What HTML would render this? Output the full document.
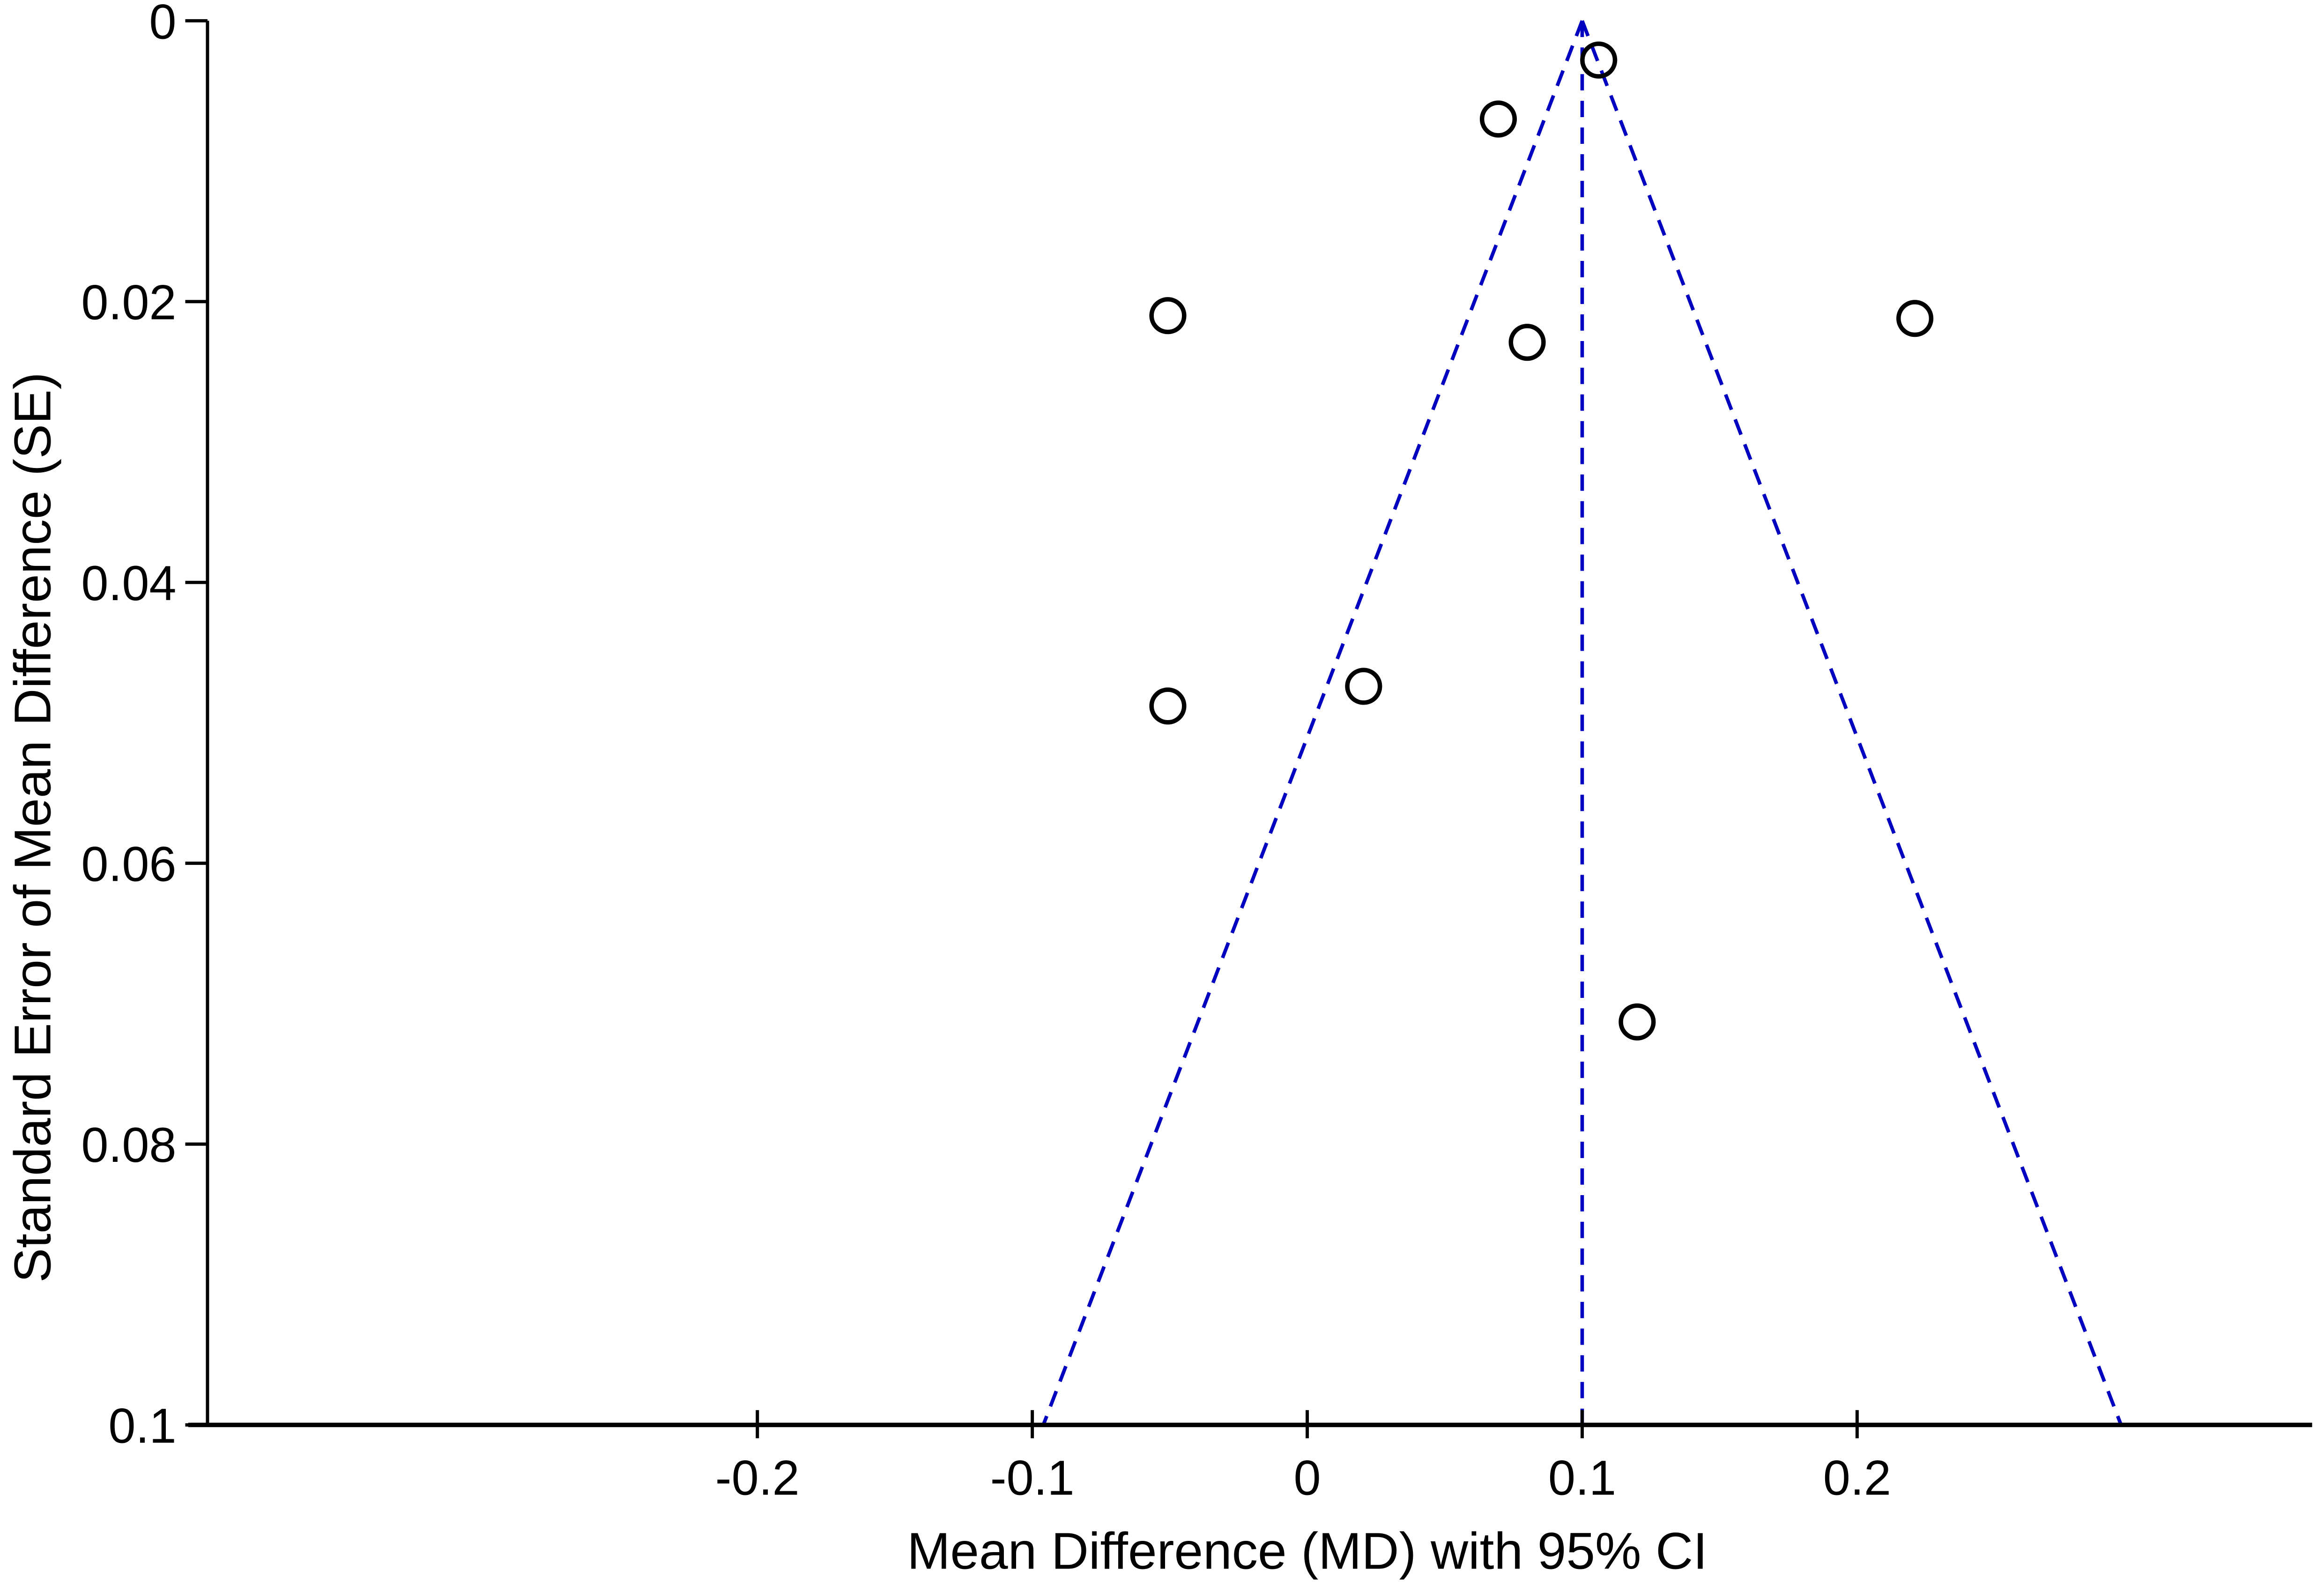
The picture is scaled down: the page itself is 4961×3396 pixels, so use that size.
<!DOCTYPE html>
<html><head><meta charset="utf-8"><style>
html,body{margin:0;padding:0;background:#fff;}
svg{display:block;}
text{font-family:"Liberation Sans",Arial,sans-serif;fill:#000;}
</style></head><body>
<svg id="chart" width="4961" height="3396" viewBox="0 0 1568 1073" preserveAspectRatio="none" xmlns="http://www.w3.org/2000/svg"></svg>
<script>
const xTicks = [-0.2, -0.1, 0, 0.1, 0.2];
const xTickLabels = ["-0.2", "-0.1", "0", "0.1", "0.2"];
const yTicks = [0, 0.02, 0.04, 0.06, 0.08, 0.1];
const yTickLabels = ["0", "0.02", "0.04", "0.06", "0.08", "0.1"];
const studyMD = [0.106, 0.0695, -0.0507, 0.080, 0.221, 0.0205, -0.0507, 0.120];
const studySE = [0.0028, 0.0070, 0.0210, 0.0229, 0.0212, 0.0474, 0.0488, 0.0713];
const pooledMD = [0.1];
const seMax = [0.1];

const X0 = 882, XS = 1855;
const Y0 = 14, YS = 9470;
function xs(v){ return X0 + v * XS; }
function ys(v){ return Y0 + v * YS; }
const svg = document.getElementById('chart');
const NS = 'http://www.w3.org/2000/svg';
function mk(tag, attrs, parent){
  const e = document.createElementNS(NS, tag);
  for (const k in attrs) e.setAttribute(k, attrs[k]);
  (parent || svg).appendChild(e);
  return e;
}

const fg = mk('g', {});


const p = pooledMD[0], sm = seMax[0];
const dashStyle = {stroke:'#0000c0','stroke-width':2.4,'stroke-dasharray':'11,7',fill:'none'};
const l1 = mk('line', Object.assign({x1:xs(p),y1:ys(0),x2:xs(p-1.96*sm),y2:ys(sm)}, dashStyle), fg);


const l2 = mk('line', Object.assign({x1:xs(p),y1:ys(0),x2:xs(p+1.96*sm),y2:ys(sm)}, dashStyle), fg);


const l3 = mk('line', Object.assign({x1:xs(p),y1:ys(0),x2:xs(p),y2:ys(sm)}, dashStyle), fg);



const ya = mk('line', {x1:140,y1:ys(0),x2:140,y2:ys(0.1)+1,stroke:'#000','stroke-width':2.2});


const xa = mk('line', {x1:127,y1:ys(0.1),x2:1560,y2:ys(0.1),stroke:'#000','stroke-width':3});



yTicks.forEach((t, i) => {
  const tk = mk('line', {x1:125,y1:ys(t),x2:140,y2:ys(t),stroke:'#000','stroke-width':2.2});
  
  
  const tx = mk('text', {x:119,y:ys(t)+12,'text-anchor':'end','font-size':33});
  tx.textContent = yTickLabels[i];
  
  
});
xTicks.forEach((t, i) => {
  const tk = mk('line', {x1:xs(t),y1:ys(0.1)-10,x2:xs(t),y2:ys(0.1)+9,stroke:'#000','stroke-width':2.2});
  
  
  const tx = mk('text', {x:xs(t),y:1008,'text-anchor':'middle','font-size':33});
  tx.textContent = xTickLabels[i];
  
  
});

studyMD.forEach((m, i) => {
  const c = mk('circle', {cx:xs(m),cy:ys(studySE[i]),r:11,fill:'none',stroke:'#000','stroke-width':3});
  
  
});

const xt = mk('text', {x:882,y:1058,'text-anchor':'middle','font-size':35});
xt.textContent = 'Mean Difference (MD) with 95% CI';


const yt = mk('text', {x:0,y:0,'text-anchor':'middle','font-size':35,transform:'translate(34,558) rotate(-90)'});
yt.textContent = 'Standard Error of Mean Difference (SE)';


</script>
</body></html>
